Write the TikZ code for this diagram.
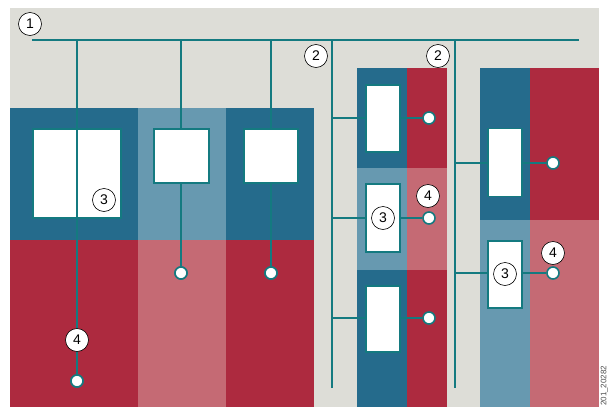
\documentclass[tikz,border=0pt]{standalone}
\usepackage{fontspec}
\setmainfont{Liberation Sans}
\definecolor{bggray}{RGB}{221,221,215}
\definecolor{dblue}{RGB}{37,107,140}
\definecolor{lblue}{RGB}{103,153,176}
\definecolor{dred}{RGB}{173,42,63}
\definecolor{lred}{RGB}{197,106,116}
\definecolor{teal}{RGB}{20,122,128}
\begin{document}
\begin{tikzpicture}[x=1pt,y=-1pt,
  wire/.style={draw=teal,line width=1.6pt},
  unitbox/.style={draw=teal,fill=white,line width=1.6pt,inner sep=0pt,rectangle},
  endpt/.style={circle,draw=teal,fill=white,line width=1.6pt,minimum size=12pt,inner sep=0pt},
  callout/.style={circle,draw=black,fill=white,line width=0.6pt,minimum size=23pt,inner sep=0pt,font=\fontsize{14}{14}\selectfont}]
\useasboundingbox (0,0) rectangle (608,407);
\fill[bggray] (10,8) rectangle (599,407);
% left block
\fill[dblue] (10,108) rectangle (138,240);
\fill[lblue] (138,108) rectangle (226,240);
\fill[dblue] (226,108) rectangle (314,240);
\fill[dred] (10,240) rectangle (138,407);
\fill[lred] (138,240) rectangle (226,407);
\fill[dred] (226,240) rectangle (314,407);
% middle block
\fill[dblue] (357,68) rectangle (407,168);
\fill[dred] (407,68) rectangle (447,168);
\fill[lblue] (357,168) rectangle (407,270);
\fill[lred] (407,168) rectangle (447,270);
\fill[dblue] (357,270) rectangle (407,407);
\fill[dred] (407,270) rectangle (447,407);
% right block
\fill[dblue] (480,68) rectangle (530,220);
\fill[dred] (530,68) rectangle (599,220);
\fill[lblue] (480,220) rectangle (530,407);
\fill[lred] (530,220) rectangle (599,407);

% bus
\coordinate (bs) at (32,40);
\coordinate (be) at (579,40);
\draw[wire] (bs) -- (be);
\coordinate (t1) at (77,40);
\coordinate (t2) at (181,40);
\coordinate (t3) at (271,40);
\coordinate (t4) at (332,40);
\coordinate (t5) at (455,40);
\coordinate (b4) at (332,388);
\coordinate (b5) at (455,388);

% left block units
\node[unitbox,minimum width=88pt,minimum height=89pt] (ua) at (77,173.5) {};
\node[endpt] (e1) at (77,381) {};
\draw[wire] (t1) -- (e1);
\node[endpt] (e2) at (181,273) {};
\node[endpt] (e3) at (271,273) {};
\draw[wire] (t2) -- (e2);
\draw[wire] (t3) -- (e3);
\node[unitbox,minimum width=55pt,minimum height=54pt] (ub) at (181.5,156) {};
\node[unitbox,minimum width=54pt,minimum height=54pt] (uc) at (271,156) {};
\node[endpt] at (e1) {};
\node[endpt] at (e2) {};
\node[endpt] at (e3) {};

% middle block
\draw[wire] (t4) -- (b4);
\node[unitbox,minimum width=34pt,minimum height=67pt] (m1) at (383,118.5) {};
\node[unitbox,minimum width=34pt,minimum height=68pt] (m2) at (383,218) {};
\node[unitbox,minimum width=34pt,minimum height=66pt] (m3) at (383,319) {};
\node[endpt] (f1) at (429,118) {};
\node[endpt] (f2) at (429,218) {};
\node[endpt] (f3) at (429,318) {};
\draw[wire] (m1.west |- f1) -- (t4 |- f1);
\draw[wire] (m2.west |- f2) -- (t4 |- f2);
\draw[wire] (m3.west |- f3) -- (t4 |- f3);
\draw[wire] (m1.east |- f1) -- (f1);
\draw[wire] (m2.east |- f2) -- (f2);
\draw[wire] (m3.east |- f3) -- (f3);

% right block
\draw[wire] (t5) -- (b5);
\node[unitbox,minimum width=34pt,minimum height=68pt] (r1) at (505,162.5) {};
\node[unitbox,minimum width=34pt,minimum height=67pt] (r2) at (505,274.5) {};
\node[endpt] (g1) at (553,163) {};
\node[endpt] (g2) at (553,273) {};
\draw[wire] (r1.west |- g1) -- (t5 |- g1);
\draw[wire] (r2.west |- g2) -- (t5 |- g2);
\draw[wire] (r1.east |- g1) -- (g1);
\draw[wire] (r2.east |- g2) -- (g2);

% callouts
\node[callout] (c1) at (30,24) {1};
\node[callout] (c2a) at (316,56) {2};
\node[callout] (c2b) at (438,56) {2};
\node[callout] (c3a) at (104,200) {3};
\node[callout] (c4a) at (77,340) {4};
\node[callout] (c3b) at (383,218) {3};
\node[callout] (c4b) at (428,196) {4};
\node[callout] (c3c) at (505,274) {3};
\node[callout] (c4c) at (553,253) {4};

% figure id
\node[rotate=90,anchor=north west,inner sep=0pt,text=black!70,font=\fontsize{8}{9}\selectfont] (fid) at (600.5,406) {201\_20282};
\end{tikzpicture}
\end{document}
